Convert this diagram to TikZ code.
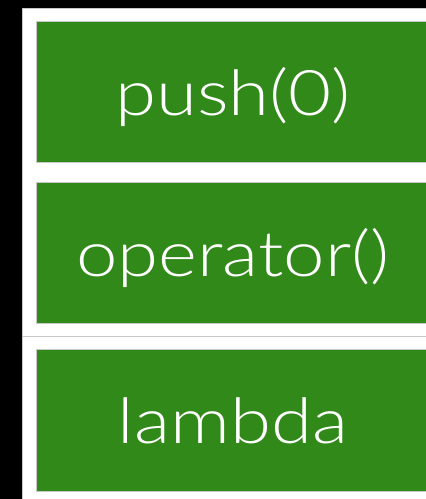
\documentclass[tikz,border=0pt]{standalone}
\usepackage{fontspec}
\setmainfont{Lato}[UprightFont={* Light}, FakeStretch=1.18]
\definecolor{kgreen}{RGB}{48,137,24}
\definecolor{kgrey}{RGB}{200,200,200}
\tikzset{
  box/.style={fill=kgreen, draw=kgrey, line width=0.6pt, inner sep=0pt, anchor=north west},
  lbl/.style={text=white, font=\fontsize{63}{66}\selectfont, anchor=base, inner sep=0pt}
}
\begin{document}
\begin{tikzpicture}[x=1pt,y=-1pt]
\useasboundingbox (0,0) rectangle (426,499);
\fill[black] (0,0) rectangle (426,499);
\fill[white] (22,8) rectangle (430,503);
\draw[kgrey, line width=0.8pt] (22,503) -- (22,8) -- (430,8);
\node[box, minimum width=400pt, minimum height=141pt] (b1) at (36,21) {};
\node[box, minimum width=400pt, minimum height=141pt] (b2) at (36,182) {};
\coordinate (sl) at (22,336);
\coordinate (sr) at (430,336);
\draw[kgrey, line width=0.8pt] (sl) -- (sr);
\node[box, minimum width=400pt, minimum height=142pt] (b3) at (36,349) {};
\node[lbl] (t1) at (233,115) {push(0)};
\node[lbl] (t2) at (233,276) {operator()};
\node[lbl] (t3) at (233,443) {lambda};
\end{tikzpicture}
\end{document}
